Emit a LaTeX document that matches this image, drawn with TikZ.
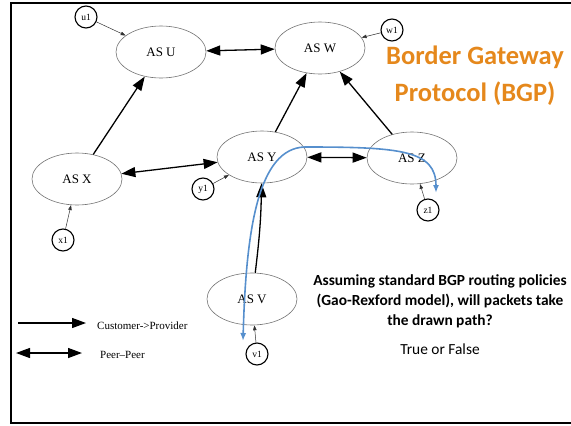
\documentclass[tikz,border=0pt]{standalone}
\usepackage{fontspec}
\usepackage{tikz}
\usetikzlibrary{shapes.geometric, arrows.meta, positioning}
\setmainfont{Liberation Serif}
\newfontfamily\calibri{Carlito}
\definecolor{BGP_Orange}{RGB}{229,136,28}
\definecolor{Route_Blue}{RGB}{86,143,205}

\begin{document}
\begin{tikzpicture}[
    x=1pt, y=-1pt,
    asnode/.style={ellipse, draw=black!55, line width=0.6pt, inner sep=0pt,
                   minimum width=90pt, minimum height=52pt,
                   font=\fontsize{13}{15}\selectfont},
    hostnode/.style={circle, draw, line width=1.1pt, inner sep=0pt,
                     minimum size=22pt, font=\fontsize{9.5}{11}\selectfont},
    provider/.style={-{Triangle[length=14pt, width=10pt]}, line width=1.3pt},
    peer/.style={{Triangle[length=14pt, width=10pt]}-{Triangle[length=14pt, width=10pt]}, line width=1.3pt},
    feed/.style={-{Triangle[length=5pt, width=3.5pt]}, line width=0.5pt, black!80},
    route/.style={{Latex[length=8pt, width=6pt]}-{Latex[length=8pt, width=6pt]},
                  line width=1.6pt, Route_Blue},
    legend/.style={anchor=west, inner sep=0pt, font=\fontsize{11}{13}\selectfont}
]
\useasboundingbox (0,0) rectangle (571,426);

% slide frame
\draw[line width=2pt] (571,3) -- (11,3) -- (11,423) -- (571,423);

% autonomous systems
\node[asnode] (asu) at (161,52) {AS U};
\node[asnode] (asw) at (320,48) {AS W};
\node[asnode] (asx) at (77,179) {AS X};
\node[asnode] (asy) at (262,157) {AS Y};
\node[asnode] (asz) at (412,158) {AS Z};
\node[asnode] (asv) at (252,299) {AS V};

% hosts
\node[hostnode] (u1) at (86,17) {u1};
\node[hostnode] (w1) at (392,30) {w1};
\node[hostnode] (y1) at (203,189) {y1};
\node[hostnode] (z1) at (428,210) {z1};
\node[hostnode] (x1) at (63,240) {x1};
\node[hostnode] (v1) at (257,354) {v1};

\draw[feed] (u1) -- (asu);
\draw[feed] (w1) -- (asw);
\draw[feed] (y1) -- (asy);
\draw[feed] (z1) -- (asz);
\draw[feed] (x1) -- (asx);
\draw[feed] (v1) -- (asv);

% customer -> provider
\draw[provider] (asx) -- (asu);
\draw[provider] (asy) -- (asw);
\draw[provider] (asz) -- (asw);
\draw[provider] (asv) to[bend right=3] (asy);

% peer -- peer
\draw[peer] (asu) -- (asw);
\draw[peer] (asx) -- (asy);
\draw[peer] (asy) -- (asz);

% drawn path
\coordinate (pathv) at (243,341);
\coordinate (pathz) at (436,193);
\draw[route] (pathv) .. controls (246,230) and (258,148) .. (305,147)
             .. controls (400,147) and (436,150) .. (pathz);

% legend
\coordinate (cpa) at (18,323);
\coordinate (cpb) at (86,323);
\coordinate (ppa) at (16,353);
\coordinate (ppb) at (82,353);
\draw[provider] (cpa) -- (cpb);
\draw[peer] (ppa) -- (ppb);
\node[legend] (cplabel) at (97,326) {Customer->Provider};
\node[legend] (pplabel) at (100,355) {Peer--Peer};

% title and question
\node[align=center, text=BGP_Orange, font=\calibri\bfseries\fontsize{26.5}{37}\selectfont]
    (title) at (475,76) {Border Gateway\\Protocol (BGP)};
\node[align=center, font=\calibri\bfseries\fontsize{15.4}{20}\selectfont] (question) at (440,301)
    {Assuming standard BGP routing policies\\(Gao-Rexford model), will packets take\\the drawn path?};
\node[font=\calibri\fontsize{15.4}{20}\selectfont] (answer) at (440,349) {True or False};

\end{tikzpicture}
\end{document}
